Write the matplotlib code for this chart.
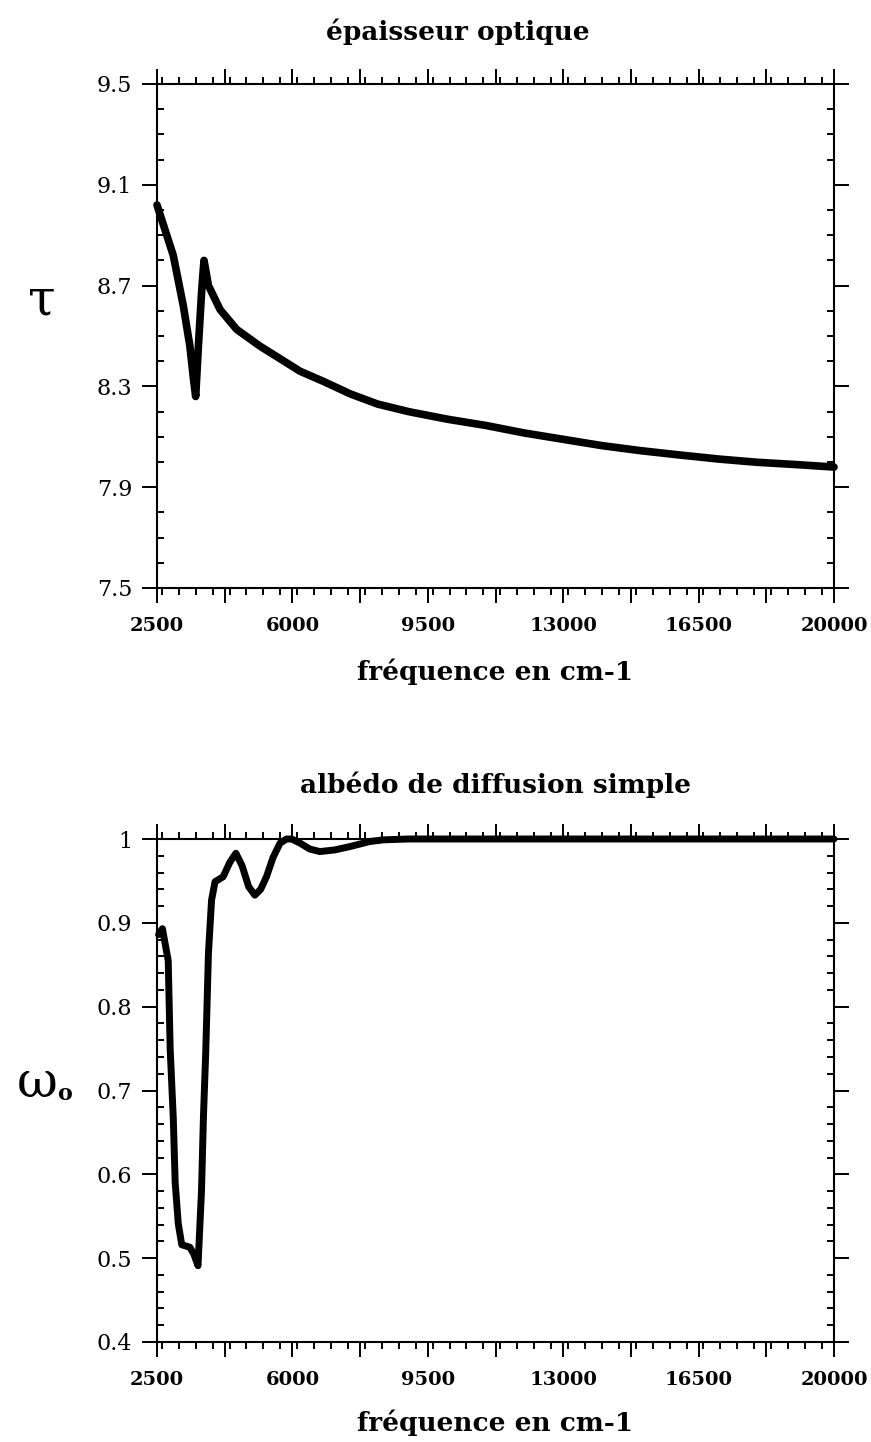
import numpy as np
import matplotlib
matplotlib.use("Agg")
import matplotlib.pyplot as plt
from matplotlib.ticker import FixedLocator, MultipleLocator, FuncFormatter

plt.rcParams['font.family'] = ['DejaVu Serif']

# optical thickness (top panel)
tau_freq = [2500, 2710, 2920, 3180, 3350, 3450, 3500, 3570, 3655, 3715, 3830, 4130,
            4560, 5160, 6200, 6800, 7500, 8200, 9000, 10000, 11000, 12000, 13000,
            14000, 15000, 16000, 17000, 18000, 19000, 20000]
tau_val = [9.02, 8.92, 8.82, 8.62, 8.46, 8.32, 8.26, 8.46, 8.68, 8.80, 8.70, 8.605,
           8.526, 8.46, 8.36, 8.32, 8.27, 8.23, 8.20, 8.17, 8.145, 8.115, 8.09,
           8.065, 8.045, 8.028, 8.012, 7.999, 7.99, 7.98]

# single scattering albedo (bottom panel)
omega_freq = [2540, 2640, 2790, 2840, 2920, 2970, 3050, 3140, 3350, 3450, 3560,
              3650, 3700, 3760, 3830, 3910, 4000, 4210, 4380, 4540, 4700, 4870,
              5030, 5180, 5330, 5500, 5680, 5850, 5980, 6200, 6450, 6710, 7100,
              7490, 8000, 8350, 9000, 20000]
omega_val = [0.886, 0.893, 0.855, 0.75, 0.668, 0.59, 0.541, 0.516, 0.513, 0.505, 0.491,
             0.58, 0.668, 0.746, 0.864, 0.927, 0.949, 0.955, 0.972, 0.983, 0.968, 0.943,
             0.933, 0.94, 0.955, 0.978, 0.995, 1.0, 1.0, 0.995, 0.988, 0.985, 0.987,
             0.991, 0.997, 0.999, 1.0, 1.0]

x_major = np.arange(2500, 20001, 1750)
x_labels = [2500, 6000, 9500, 13000, 16500, 20000]

fig = plt.figure(figsize=(8.71, 14.42), dpi=100)
W, H = 871.0, 1442.0


def style_axes(ax, ymin, ymax, ystep, yminor, yfmt):
    ax.set_xlim(2500, 20000)
    ax.set_ylim(ymin, ymax)
    ax.xaxis.set_major_locator(FixedLocator(x_major))
    ax.xaxis.set_minor_locator(MultipleLocator(437.5))
    ax.xaxis.set_major_formatter(FuncFormatter(
        lambda v, p: str(int(round(v))) if int(round(v)) in x_labels else ""))
    ax.yaxis.set_major_locator(FixedLocator(np.arange(ymin, ymax + 1e-6, ystep)))
    ax.yaxis.set_minor_locator(MultipleLocator(yminor))
    ax.yaxis.set_major_formatter(FuncFormatter(yfmt))
    ax.tick_params(axis='x', which='both', direction='out', top=True, bottom=True,
                   width=1.4, colors='black')
    ax.tick_params(axis='x', which='major', length=11, pad=10, labelsize=14)
    ax.tick_params(axis='x', which='minor', length=5)
    ax.tick_params(axis='y', which='major', direction='out', left=True, right=True,
                   length=11, width=1.4, pad=7, labelsize=16)
    ax.tick_params(axis='y', which='minor', direction='in', left=True, right=True,
                   length=5, width=1.4)
    for lab in ax.get_xticklabels():
        lab.set_fontweight('bold')
    for s in ax.spines.values():
        s.set_linewidth(1.5)


# top panel
ax1 = fig.add_axes([157 / W, 1 - 588 / H, 677 / W, 504 / H])
ax1.plot(tau_freq, tau_val, color='black', lw=5.5, solid_joinstyle='round',
         solid_capstyle='round', clip_on=False)
style_axes(ax1, 7.5, 9.5, 0.4, 0.1, lambda v, p: "%.1f" % v)
fig.text(458 / W, 1 - 32 / H, "épaisseur optique", fontsize=19, fontweight='bold',
         ha='center', va='center')
ax1.set_xlabel("fréquence en cm-1", fontsize=19, fontweight='bold', labelpad=17)
fig.text(42 / W, 1 - 300 / H, "τ", fontsize=36, ha='center', va='center')

# bottom panel
ax2 = fig.add_axes([157 / W, 1 - 1342 / H, 677 / W, 503 / H])
ax2.plot(omega_freq, omega_val, color='black', lw=5, solid_joinstyle='round',
         solid_capstyle='round', clip_on=False)
style_axes(ax2, 0.4, 1.0, 0.1, 0.02,
           lambda v, p: "1" if abs(v - 1) < 1e-6 else "%.1f" % v)
ax2.set_title("albédo de diffusion simple", fontsize=19, fontweight='bold', pad=33)
ax2.set_xlabel("fréquence en cm-1", fontsize=19, fontweight='bold', labelpad=15)
fig.text(37 / W, 1 - 1083 / H, "ω", fontsize=36, ha='center', va='center')
fig.text(65 / W, 1 - 1094 / H, "o", fontsize=16, fontweight='bold', ha='center',
         va='center')

fig.savefig("out.png", dpi=100)
